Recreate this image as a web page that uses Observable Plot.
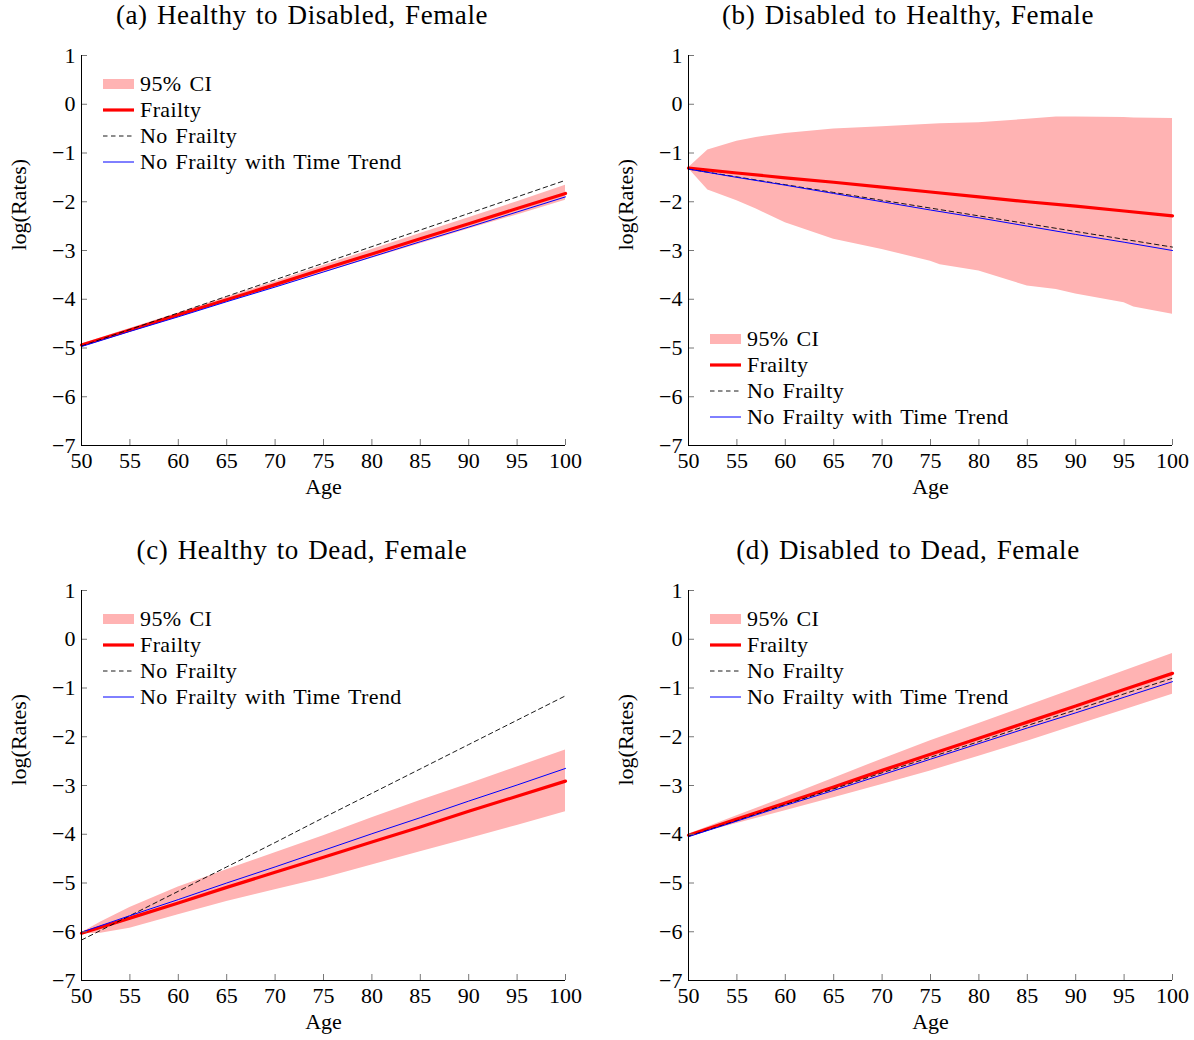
<!DOCTYPE html>
<html>
<head>
<meta charset="utf-8">
<script src="https://cdn.jsdelivr.net/npm/d3@7"></script>
<script src="https://cdn.jsdelivr.net/npm/@observablehq/plot@0.6"></script>
<style>
  html, body { margin: 0; padding: 0; background: #fff; }
  #page { position: relative; width: 1194px; height: 1040px; font-family: "Liberation Serif", serif; }
  .panel { position: absolute; }
  #overlay { position: absolute; left: 0; top: 0; pointer-events: none; }
</style>
</head>
<body>
<div id="page"></div>
<script>
// ---------------- data ----------------
const ages = [50, 55, 60, 65, 70, 75, 80, 85, 90, 95, 100];
const xTicks = [50, 55, 60, 65, 70, 75, 80, 85, 90, 95, 100];
const yTicks = [1, 0, -1, -2, -3, -4, -5, -6, -7];

const titles = [
  "(a) Healthy to Disabled, Female",
  "(b) Disabled to Healthy, Female",
  "(c) Healthy to Dead, Female",
  "(d) Disabled to Dead, Female"
];
const legendLabels = ["95% CI", "Frailty", "No Frailty", "No Frailty with Time Trend"];
const xLabel = "Age";
const yLabel = "log(Rates)";

// (a) Healthy to Disabled
const aFrailty   = [-4.94, -4.63, -4.32, -4.01, -3.70, -3.38, -3.07, -2.76, -2.45, -2.14, -1.83];
const aNoFrailty = [-4.96, -4.62, -4.28, -3.94, -3.60, -3.26, -2.92, -2.58, -2.24, -1.90, -1.56];
const aTrend     = [-4.97, -4.66, -4.36, -4.05, -3.75, -3.44, -3.13, -2.82, -2.52, -2.21, -1.90];
const aCIAges    = [50, 55, 60, 65, 70, 75, 80, 85, 90, 95, 100];
const aUpper     = [-4.92, -4.60, -4.28, -3.96, -3.64, -3.31, -2.98, -2.65, -2.33, -2.00, -1.66];
const aLower     = [-4.96, -4.66, -4.36, -4.06, -3.76, -3.46, -3.16, -2.86, -2.56, -2.27, -1.97];

// (b) Disabled to Healthy
const bFrailty   = [-1.31, -1.41, -1.51, -1.60, -1.70, -1.80, -1.90, -2.00, -2.09, -2.19, -2.29];
const bNoFrailty = [-1.33, -1.49, -1.65, -1.81, -1.97, -2.13, -2.29, -2.45, -2.61, -2.77, -2.93];
const bTrend     = [-1.33, -1.50, -1.66, -1.83, -2.00, -2.17, -2.33, -2.50, -2.67, -2.83, -3.00];
const bCIAges    = [50, 52, 55, 57, 60, 65, 70, 75, 76, 80, 85, 88, 90, 95, 96, 100];
const bUpper     = [-1.30, -0.94, -0.76, -0.68, -0.60, -0.51, -0.46, -0.41, -0.40, -0.38, -0.31, -0.26, -0.26, -0.27, -0.28, -0.29];
const bLower     = [-1.32, -1.76, -1.98, -2.15, -2.43, -2.77, -2.98, -3.22, -3.29, -3.42, -3.73, -3.80, -3.89, -4.07, -4.16, -4.31];

// (c) Healthy to Dead
const cFrailty   = [-6.03, -5.72, -5.41, -5.09, -4.78, -4.47, -4.16, -3.85, -3.53, -3.22, -2.91];
const cNoFrailty = [-6.17, -5.67, -5.17, -4.67, -4.17, -3.66, -3.16, -2.66, -2.16, -1.66, -1.16];
const cTrend     = [-6.01, -5.67, -5.34, -5.00, -4.67, -4.33, -3.99, -3.66, -3.32, -2.99, -2.65];
const cCIAges    = [50, 52, 55, 60, 65, 70, 75, 80, 85, 90, 95, 100];
const cUpper     = [-6.02, -5.80, -5.50, -5.08, -4.73, -4.38, -4.03, -3.66, -3.31, -2.97, -2.62, -2.27];
const cLower     = [-6.04, -6.03, -5.93, -5.65, -5.38, -5.14, -4.90, -4.63, -4.36, -4.09, -3.82, -3.54];

// (d) Disabled to Dead
const dFrailty   = [-4.02, -3.69, -3.36, -3.03, -2.69, -2.36, -2.03, -1.70, -1.37, -1.03, -0.70];
const dNoFrailty = [-4.04, -3.72, -3.39, -3.07, -2.74, -2.42, -2.10, -1.77, -1.45, -1.12, -0.80];
const dTrend     = [-4.05, -3.73, -3.41, -3.10, -2.78, -2.46, -2.14, -1.82, -1.51, -1.19, -0.87];
const dCIAges    = [50, 55, 60, 65, 70, 75, 80, 85, 90, 95, 100];
const dUpper     = [-4.00, -3.62, -3.24, -2.85, -2.46, -2.08, -1.73, -1.37, -1.01, -0.65, -0.29];
const dLower     = [-4.04, -3.78, -3.52, -3.25, -2.98, -2.70, -2.40, -2.09, -1.77, -1.45, -1.13];

// ---------------- styles ----------------
const FONT = "Liberation Serif";
const CI_FILL = "#ffb3b3";
const RED = "#ff0000";
const BLUE = "#0000ff";
const DASH = "4.5,3.5";

const panels = [
  {title: titles[0], frailty: aFrailty, nofrail: aNoFrailty, trend: aTrend, ciAges: aCIAges, up: aUpper, lo: aLower, col: 0, row: 0, legendRow: 0},
  {title: titles[1], frailty: bFrailty, nofrail: bNoFrailty, trend: bTrend, ciAges: bCIAges, up: bUpper, lo: bLower, col: 1, row: 0, legendRow: 1},
  {title: titles[2], frailty: cFrailty, nofrail: cNoFrailty, trend: cTrend, ciAges: cCIAges, up: cUpper, lo: cLower, col: 0, row: 1, legendRow: 0},
  {title: titles[3], frailty: dFrailty, nofrail: dNoFrailty, trend: dTrend, ciAges: dCIAges, up: dUpper, lo: dLower, col: 1, row: 1, legendRow: 0}
];

// layout
const colLeft = [0, 600];
const colWidth = [600, 594];
const colMarginLeft = [81, 88];
const colMarginRight = [35, 22];
const rowTop = [40, 575];
const PLOT_H = 465, MT = 15, MB = 60;

const fmt = d => d < 0 ? "\u2212" + Math.abs(d) : String(d);

const page = document.getElementById("page");

for (const p of panels) {
  const lines = ages.map((a, i) => ({age: a, frailty: p.frailty[i], nofrail: p.nofrail[i], trend: p.trend[i]}));
  const ci = p.ciAges.map((a, i) => ({age: a, up: p.up[i], lo: p.lo[i]}));
  const chart = Plot.plot({
    width: colWidth[p.col],
    height: PLOT_H,
    marginLeft: colMarginLeft[p.col],
    marginRight: colMarginRight[p.col],
    marginTop: MT,
    marginBottom: MB,
    style: {fontFamily: FONT, fontSize: "22px", color: "black", background: "transparent", overflow: "visible"},
    x: {domain: [50, 100]},
    y: {domain: [-7, 1]},
    marks: [
      Plot.areaY(ci, {x: "age", y1: "lo", y2: "up", fill: CI_FILL}),
      Plot.line(lines, {x: "age", y: "frailty", stroke: RED, strokeWidth: 3.2}),
      Plot.line(lines, {x: "age", y: "nofrail", stroke: "black", strokeWidth: 0.9, strokeDasharray: DASH}),
      Plot.line(lines, {x: "age", y: "trend", stroke: BLUE, strokeWidth: 1}),
      Plot.axisX(xTicks, {tickSize: -6, tickPadding: 13, tickFormat: fmt, stroke: "#777", fill: "black", fontSize: 22, label: null}),
      Plot.axisY(yTicks, {tickSize: -6, tickPadding: 12, tickFormat: fmt, stroke: "#777", fill: "black", fontSize: 22, label: null}),
      Plot.ruleX([50], {stroke: "black", strokeWidth: 1}),
      Plot.ruleY([-7], {stroke: "black", strokeWidth: 1}),
      Plot.text([xLabel], {frameAnchor: "bottom", dy: 48, fontSize: 22, fill: "black"}),
      Plot.text([yLabel], {frameAnchor: "left", rotate: -90, dx: -63, fontSize: 22, fill: "black"})
    ]
  });
  const div = document.createElement("div");
  div.className = "panel";
  div.style.left = colLeft[p.col] + "px";
  div.style.top = rowTop[p.row] + "px";
  div.appendChild(chart);
  page.appendChild(div);
}

// overlay: titles and legends
const overlay = d3.select(page).append("svg")
  .attr("id", "overlay")
  .attr("width", 1194).attr("height", 1040)
  .style("font-family", FONT);

const titleCenterX = [302, 908];
const titleBaseline = [24, 559];

for (const p of panels) {
  overlay.append("text")
    .attr("x", titleCenterX[p.col]).attr("y", titleBaseline[p.row])
    .attr("text-anchor", "middle")
    .attr("font-size", 27)
    .attr("letter-spacing", "0.6px")
    .attr("word-spacing", "2px")
    .attr("fill", "black")
    .text(p.title);

  const axisX = colLeft[p.col] + colMarginLeft[p.col];
  const y0 = p.row === 0 ? (p.legendRow === 1 ? 339 : 84) : 619;
  const g = overlay.append("g").attr("transform", `translate(${axisX},${y0})`);
  legendLabels.forEach((lab, i) => {
    const cy = i * 26;
    if (i === 0) {
      g.append("rect").attr("x", 22).attr("y", cy - 5).attr("width", 31).attr("height", 10).attr("fill", CI_FILL);
    } else if (i === 1) {
      g.append("line").attr("x1", 22).attr("x2", 53).attr("y1", cy).attr("y2", cy).attr("stroke", RED).attr("stroke-width", 3.2);
    } else if (i === 2) {
      g.append("line").attr("x1", 22).attr("x2", 53).attr("y1", cy).attr("y2", cy).attr("stroke", "black").attr("stroke-width", 0.9).attr("stroke-dasharray", DASH);
    } else {
      g.append("line").attr("x1", 22).attr("x2", 53).attr("y1", cy).attr("y2", cy).attr("stroke", BLUE).attr("stroke-width", 1);
    }
    g.append("text")
      .attr("x", 59).attr("y", cy + 7)
      .attr("font-size", 22)
      .attr("letter-spacing", "0.4px")
      .attr("word-spacing", "2px")
      .attr("fill", "black")
      .text(lab);
  });
}
</script>
</body>
</html>
